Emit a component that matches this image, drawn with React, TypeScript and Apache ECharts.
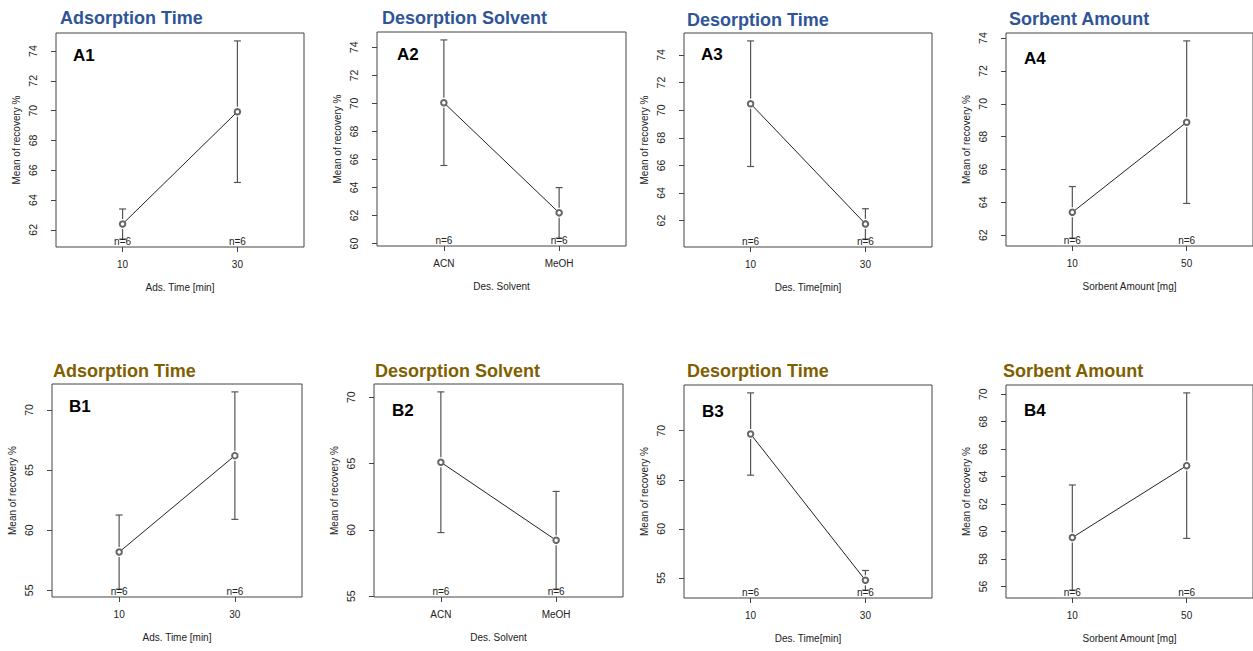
import React, { useEffect, useRef } from "react";
import * as echarts from "echarts";

// ---------- data ----------
const panelIds = ["A1", "A2", "A3", "A4", "B1", "B2", "B3", "B4"];
const panelTitles = [
  "Adsorption Time", "Desorption Solvent", "Desorption Time", "Sorbent Amount",
  "Adsorption Time", "Desorption Solvent", "Desorption Time", "Sorbent Amount",
];
const xAxisNames = [
  "Ads. Time [min]", "Des. Solvent", "Des. Time[min]", "Sorbent Amount [mg]",
  "Ads. Time [min]", "Des. Solvent", "Des. Time[min]", "Sorbent Amount [mg]",
];
const categories = [
  ["10", "30"], ["ACN", "MeOH"], ["10", "30"], ["10", "50"],
  ["10", "30"], ["ACN", "MeOH"], ["10", "30"], ["10", "50"],
];
const means = [
  [62.39, 69.93], [70.05, 62.19], [70.47, 61.76], [63.39, 68.88],
  [58.18, 66.2], [65.1, 59.22], [69.66, 54.76], [59.56, 64.8],
];
const ciHalf = [
  [1.01, 4.75], [4.48, 1.8], [4.55, 1.1], [1.57, 4.95],
  [3.08, 5.3], [5.3, 3.68], [4.19, 1.0], [3.83, 5.3],
];
const nCounts = [
  [6, 6], [6, 6], [6, 6], [6, 6],
  [6, 6], [6, 6], [6, 6], [6, 6],
];
const yTicks = [
  [62, 64, 66, 68, 70, 72, 74],
  [60, 62, 64, 66, 68, 70, 72, 74],
  [62, 64, 66, 68, 70, 72, 74],
  [62, 64, 66, 68, 70, 72, 74],
  [55, 60, 65, 70],
  [55, 60, 65, 70],
  [55, 60, 65, 70],
  [56, 58, 60, 62, 64, 66, 68, 70],
];
const yAxisName = "Mean of recovery %";

// ---------- layout ----------
const grids = [
  { left: 56, top: 33, width: 248, height: 214 },
  { left: 377, top: 32, width: 249, height: 214 },
  { left: 684, top: 33, width: 248, height: 214 },
  { left: 1006, top: 33, width: 248, height: 213 },
  { left: 52, top: 384, width: 250, height: 213 },
  { left: 374, top: 384, width: 249, height: 213 },
  { left: 684, top: 385, width: 248, height: 213 },
  { left: 1006, top: 385, width: 248, height: 213 },
];
const titlePos = [
  [60, 18], [382, 18], [687, 20], [1009, 19],
  [53, 371], [375, 371], [687, 371], [1003, 371],
];
const labelPos = [
  [73, 55], [397, 54], [701, 54], [1024, 58],
  [69, 406], [392, 410], [702, 411], [1024, 410],
];
const titleColors = ["#2F5597", "#2F5597", "#2F5597", "#2F5597", "#7F6000", "#7F6000", "#7F6000", "#7F6000"];
const FONT = '"Liberation Sans", Arial, Helvetica, sans-serif';

function buildOption() {
  const xAxis: any[] = [];
  const yAxis: any[] = [];
  const series: any[] = [];
  const graphic: any[] = [];
  const grid = grids.map((g) => ({
    ...g,
    show: true,
    borderColor: "#444",
    borderWidth: 1,
    backgroundColor: "transparent",
    containLabel: false,
  }));

  panelIds.forEach((id, i) => {
    const lows = means[i].map((m, k) => m - ciHalf[i][k]);
    const highs = means[i].map((m, k) => m + ciHalf[i][k]);
    const lo = Math.min(...lows);
    const hi = Math.max(...highs);
    const ext = (hi - lo) * 0.04;
    const yMin = lo - ext;
    const yMax = hi + ext;
    const nCat = categories[i].length;
    const xExt = nCat * 0.04;
    const xMin = 0.5 - xExt;
    const xMax = nCat + 0.5 + xExt;
    const xVals = categories[i].map((_, k) => k + 1);

    xAxis.push({
      type: "value",
      gridIndex: i,
      min: xMin,
      max: xMax,
      axisLine: { show: false },
      splitLine: { show: false },
      axisTick: { show: true, customValues: xVals, length: 5, lineStyle: { color: "#444" } },
      axisLabel: {
        customValues: xVals,
        formatter: (v: number) => categories[i][Math.round(v) - 1],
        margin: 12,
        fontSize: 10,
        color: "#222",
        fontFamily: FONT,
      },
      name: xAxisNames[i],
      nameLocation: "middle",
      nameGap: 35,
      nameTextStyle: { fontSize: 10, color: "#222", fontFamily: FONT },
    });
    yAxis.push({
      type: "value",
      gridIndex: i,
      min: yMin,
      max: yMax,
      axisLine: { show: false },
      splitLine: { show: false },
      axisTick: { show: true, customValues: yTicks[i], length: 5, lineStyle: { color: "#444" } },
      axisLabel: {
        customValues: yTicks[i],
        rotate: 90,
        margin: 18,
        fontSize: 10.5,
        color: "#222",
        fontFamily: FONT,
      },
      name: yAxisName,
      nameLocation: "middle",
      nameGap: 35,
      nameRotate: 90,
      nameTextStyle: { fontSize: 10, color: "#222", fontFamily: FONT },
    });

    // error bars (with gap around the mean point)
    series.push({
      type: "custom",
      xAxisIndex: i,
      yAxisIndex: i,
      z: 2,
      data: xVals.map((x, k) => [x, lows[k], highs[k], means[i][k]]),
      renderItem: (params: any, api: any) => {
        const x = api.value(0);
        const pLo = api.coord([x, api.value(1)]);
        const pHi = api.coord([x, api.value(2)]);
        const pM = api.coord([x, api.value(3)]);
        const gap = 5;
        const cap = 3.5;
        const style = { stroke: "#555", lineWidth: 1.2 };
        const children: any[] = [];
        if (pM[1] - gap > pHi[1]) {
          children.push({ type: "line", shape: { x1: pHi[0], y1: pHi[1], x2: pHi[0], y2: pM[1] - gap }, style });
        }
        if (pLo[1] > pM[1] + gap) {
          children.push({ type: "line", shape: { x1: pLo[0], y1: pM[1] + gap, x2: pLo[0], y2: pLo[1] }, style });
        }
        children.push({ type: "line", shape: { x1: pHi[0] - cap, y1: pHi[1], x2: pHi[0] + cap, y2: pHi[1] }, style });
        children.push({ type: "line", shape: { x1: pLo[0] - cap, y1: pLo[1], x2: pLo[0] + cap, y2: pLo[1] }, style });
        return { type: "group", children };
      },
    });

    // mean line with open circles
    series.push({
      type: "line",
      xAxisIndex: i,
      yAxisIndex: i,
      z: 3,
      data: xVals.map((x, k) => [x, means[i][k]]),
      symbol: "emptyCircle",
      symbolSize: 5.5,
      showSymbol: true,
      lineStyle: { color: "#222", width: 1 },
      itemStyle: { color: "#666", borderColor: "#666", borderWidth: 0.8 },
    });

    // n= labels along the bottom
    series.push({
      type: "custom",
      xAxisIndex: i,
      yAxisIndex: i,
      z: 4,
      data: xVals.map((x, k) => [x, yMin, nCounts[i][k]]),
      renderItem: (params: any, api: any) => {
        const p = api.coord([api.value(0), api.value(1)]);
        return {
          type: "text",
          x: p[0],
          y: p[1] - 1,
          style: {
            text: "n=" + api.value(2),
            textAlign: "center",
            textVerticalAlign: "bottom",
            font: '10px "Liberation Sans", Arial, sans-serif',
            fill: "#222",
          },
        };
      },
    });

    graphic.push({
      type: "text",
      x: titlePos[i][0],
      y: titlePos[i][1],
      style: {
        text: panelTitles[i],
        font: 'bold 18px "Liberation Sans", Arial, sans-serif',
        fill: titleColors[i],
        textVerticalAlign: "middle",
      },
    });
    graphic.push({
      type: "text",
      x: labelPos[i][0],
      y: labelPos[i][1],
      style: {
        text: id,
        font: 'bold 17px "Liberation Sans", Arial, sans-serif',
        fill: "#000",
        textVerticalAlign: "middle",
      },
    });
  });

  return {
    animation: false,
    backgroundColor: "#fff",
    grid,
    xAxis,
    yAxis,
    series,
    graphic,
  };
}

export default function App() {
  const ref = useRef<HTMLDivElement>(null);
  useEffect(() => {
    document.body.style.margin = "0";
    if (!ref.current) return;
    const chart = echarts.init(ref.current, undefined, { renderer: "svg" });
    chart.setOption(buildOption() as any);
    return () => chart.dispose();
  }, []);
  return <div ref={ref} style={{ width: 1253, height: 651, position: "absolute", left: 0, top: 0 }} />;
}
